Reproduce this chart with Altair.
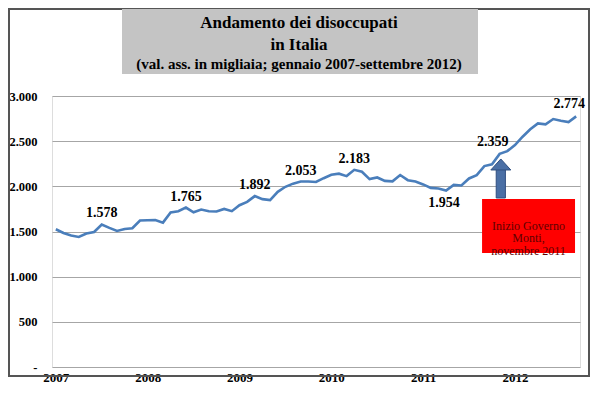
import altair as alt
import pandas as pd

# Monthly unemployed (thousands), Jan 2007 - Sep 2012 (month index 0..68)
months = list(range(69))
unemployed = [
    1525, 1484, 1455, 1440, 1477, 1495, 1578, 1540, 1506, 1528, 1536, 1622,
    1625, 1628, 1598, 1710, 1725, 1765, 1713, 1743, 1725, 1722, 1750, 1725,
    1791, 1828, 1892, 1858, 1847, 1939, 1995, 2030, 2053, 2053, 2048, 2090,
    2128, 2140, 2113, 2183, 2161, 2080, 2098, 2060, 2055, 2125, 2068, 2053,
    2021, 1983, 1976, 1954, 2016, 2010, 2087, 2124, 2224, 2243, 2359, 2390,
    2457, 2549, 2631, 2697, 2686, 2745, 2726, 2712, 2774,
]
year_ticks = [0, 12, 24, 36, 48, 60]
y_ticks = [0, 500, 1000, 1500, 2000, 2500, 3000]

labels_above = [6, 17, 26, 32, 39]
labels_below = [51]
labels_left = [58, 68]

title_lines = ["Andamento dei disoccupati", "in Italia",
               "(val. ass. in migliaia; gennaio 2007-settembre 2012)"]

# annotation (data coordinates)
box_x = [55.7, 67.85]
box_y = [1262, 1860]
box_text = "Inizio Governo\nMonti,\nnovembre 2011"
shaft_x = [57.55, 58.75]
shaft_y = [1871, 2195]
head_month = 58.15
head_value = 2242

FONT = "Liberation Serif"

df = pd.DataFrame({"month": months, "value": unemployed})
one = pd.DataFrame({"a": [0]})

x_scale = alt.Scale(domain=[-0.5, 68.5], nice=False, zero=False)
y_scale = alt.Scale(domain=[0, 3000], nice=False)

x_axis = alt.Axis(values=year_ticks, labelExpr="'' + (2007 + datum.value / 12)",
                  title=None, grid=False, ticks=False, domain=False,
                  labelFont=FONT, labelFontSize=13, labelFontWeight="bold",
                  labelColor="black", labelPadding=4, labelFlush=False)
y_axis = alt.Axis(values=y_ticks,
                  labelExpr="datum.value == 0 ? '-' : replace(format(datum.value, ','), ',', '.')",
                  title=None, grid=True, gridColor="#A6A6A6", gridWidth=1,
                  ticks=False, domain=False,
                  labelFont=FONT, labelFontSize=12.5, labelFontWeight="bold",
                  labelColor="black", labelPadding=15)

frame = alt.Chart(one).mark_rect(fill="white", fillOpacity=0, stroke="#555555", strokeWidth=2).encode(
    x=alt.value(-43), x2=alt.value(537), y=alt.value(-87), y2=alt.value(280))

title_box = alt.Chart(one).mark_rect(fill="#C4C4C4").encode(
    x=alt.value(70), x2=alt.value(426), y=alt.value(-87), y2=alt.value(-22))

def title_text(txt, size, y):
    return alt.Chart(one).mark_text(font=FONT, fontSize=size, fontWeight="bold", color="black",
                                    baseline="middle", align="center").encode(
        x=alt.value(247), y=alt.value(y), text=alt.value(txt))

line = alt.Chart(df).mark_line(color="#4A7EBB", strokeWidth=2.6).encode(
    x=alt.X("month:Q", scale=x_scale, axis=x_axis),
    y=alt.Y("value:Q", scale=y_scale, axis=y_axis),
)

lbl_expr = "replace(format(datum.value, ','), ',', '.')"
def labels(sel, dx, dy):
    return alt.Chart(df).transform_filter(
        alt.FieldOneOfPredicate(field="month", oneOf=sel)
    ).transform_calculate(lbl=lbl_expr).mark_text(
        font=FONT, fontSize=14, fontWeight="bold", color="black",
        dx=dx, dy=dy, baseline="middle", align="center"
    ).encode(x=alt.X("month:Q", scale=x_scale), y=alt.Y("value:Q", scale=y_scale), text="lbl:N")

ann = pd.DataFrame({"x0": [box_x[0]], "x1": [box_x[1]], "y0": [box_y[0]], "y1": [box_y[1]],
                    "xc": [(box_x[0] + box_x[1]) / 2], "yc": [(box_y[0] + box_y[1]) / 2],
                    "sx0": [shaft_x[0]], "sx1": [shaft_x[1]], "sy0": [shaft_y[0]], "sy1": [shaft_y[1]],
                    "hx": [head_month], "hy": [head_value], "t": [box_text]})

red_box = alt.Chart(ann).mark_rect(fill="#FF0000").encode(
    x=alt.X("x0:Q", scale=x_scale), x2="x1:Q",
    y=alt.Y("y0:Q", scale=y_scale), y2="y1:Q")
box_lbl = alt.Chart(ann).mark_text(font=FONT, fontSize=12, color="#5E0000",
                                   lineBreak="\n", lineHeight=12.5,
                                   baseline="middle", align="center").encode(
    x=alt.X("xc:Q", scale=x_scale), y=alt.Y("yc:Q", scale=y_scale), text="t:N")

shaft = alt.Chart(ann).mark_rect(fill="#4A6FA5", stroke="#2F4F80", strokeWidth=1).encode(
    x=alt.X("sx0:Q", scale=x_scale), x2="sx1:Q",
    y=alt.Y("sy0:Q", scale=y_scale), y2="sy1:Q")
head = alt.Chart(ann).mark_point(shape="M0,-0.55 L1,0.55 L-1,0.55 Z", size=400, filled=True,
                                 fill="#4A6FA5", stroke="#2F4F80", strokeWidth=1,
                                 opacity=1).encode(
    x=alt.X("hx:Q", scale=x_scale), y=alt.Y("hy:Q", scale=y_scale))

chart = alt.layer(
    frame, title_box,
    title_text(title_lines[0], 17, -73), title_text(title_lines[1], 17, -51),
    title_text(title_lines[2], 15, -32),
    line,
    labels(labels_above, 0, -11), labels(labels_below, -2, 13), labels(labels_left, -7, -12),
    red_box, box_lbl, shaft, head,
).properties(
    width=528, height=271,
    autosize=alt.AutoSizeParams(type="none"),
    padding={"left": 44, "top": 88, "right": 10, "bottom": 18},
).configure_view(stroke=None).configure(background="white")

chart.save("out.html", embed_options={"renderer": "svg", "actions": False})
